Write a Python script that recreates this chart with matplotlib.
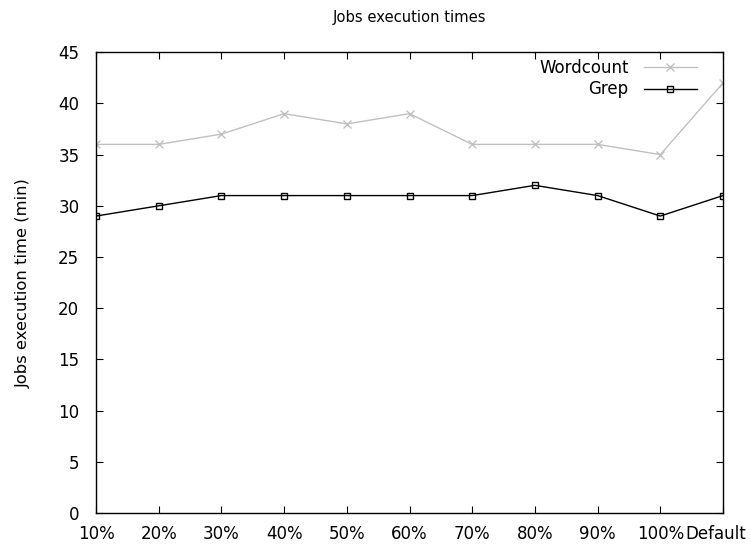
import numpy as np
import matplotlib.pyplot as plt
from matplotlib.transforms import ScaledTranslation

plt.rcParams['font.family'] = ['DejaVu Sans']

categories = ['10%', '20%', '30%', '40%', '50%', '60%', '70%', '80%', '90%', '100%', 'Default']
wordcount = [36, 36, 37, 39, 38, 39, 36, 36, 36, 35, 42]
grep = [29, 30, 31, 31, 31, 31, 31, 32, 31, 29, 31]

fig = plt.figure(figsize=(7.5, 5.44), dpi=100)
ax = fig.add_axes([0.128, 0.057, 0.836, 0.847])

x = np.arange(len(categories))
ax.plot(x, wordcount, color='#c0c0c0', lw=1, marker='x', ms=6, mew=1,
        label='Wordcount')
ax.plot(x, grep, color='black', lw=1, marker='s', ms=5, mew=1,
        mfc='none', label='Grep')

ax.set_xlim(0, len(categories) - 1)
ax.set_ylim(0, 45)
ax.set_xticks(x)
ax.set_xticklabels(categories)
ax.set_yticks(np.arange(0, 46, 5))
ax.tick_params(direction='in', top=True, right=True, length=5, labelsize=12)
ax.tick_params(axis='y', pad=12)
ax.tick_params(axis='x', pad=9)
for s in ax.spines.values():
    s.set_linewidth(1)

# nudge the last label so it stays inside the figure
last = ax.get_xticklabels()[-1]
last.set_transform(last.get_transform() + ScaledTranslation(-0.07, 0, fig.dpi_scale_trans))

ax.set_ylabel('Jobs execution time (min)', fontsize=11.8, labelpad=20)
ax.set_title('Jobs execution times', fontsize=10.6, pad=22)

ax.legend(loc='upper right', bbox_to_anchor=(0.9585, 0.986), frameon=False,
          markerfirst=False, fontsize=12, handlelength=3.2,
          handletextpad=0.9, borderpad=0, borderaxespad=0, labelspacing=0.22)

fig.savefig('out.png', dpi=100)
